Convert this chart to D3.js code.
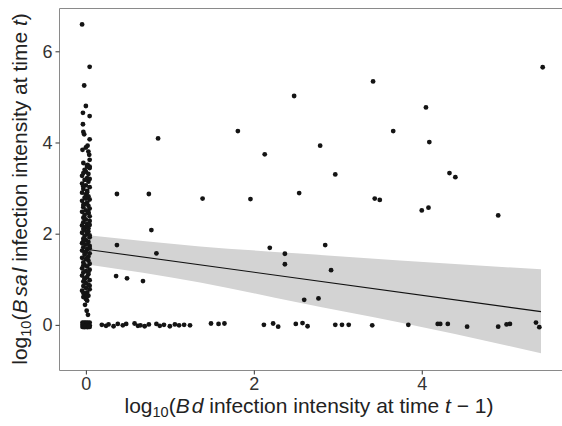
<!DOCTYPE html>
<html>
<head>
<meta charset="utf-8">
<title>Bsal vs Bd infection intensity</title>
<script src="https://cdn.jsdelivr.net/npm/d3@7"></script>
<style>
  body { margin: 0; background: #fff; }
  svg { display: block; font-family: "Liberation Sans", Arial, sans-serif; }
</style>
</head>
<body>
<div id="main-container"></div>
<script>
// points stacked at Bd = 0 (x jittered in picture)
var stackPoints = [
  [-0.045,6.59],[0.045,5.66],[-0.02,5.25],[0.0,4.80],[-0.035,4.65],[0.045,4.58],[-0.035,4.40],
  [-0.03,4.23],[-0.02,4.18],[0.045,4.07],[-0.04,3.84],[0.0,3.89],[0.02,3.93],[0.03,3.80],
  [0.04,3.73],[0.045,3.62],[0.02,3.51],[0.045,3.47],
  [-0.03,3.55],[0.015,3.50],[0.045,3.44],[-0.015,3.40],[0.0,3.36],[0.03,3.31],[-0.045,3.27],
  [0.015,3.22],[-0.015,3.18],[0.03,3.14],[-0.045,3.10],[0.0,3.06],[0.045,3.02],[-0.03,2.98],
  [0.015,2.94],[-0.045,2.90],[0.0,2.86],[0.03,2.82],[-0.015,2.79],[0.045,2.75],[-0.045,2.72],
  [0.015,2.68],[-0.015,2.65],[0.03,2.61],[-0.03,2.58],[0.045,2.55],[0.0,2.51],[-0.045,2.48],
  [0.03,2.45],[-0.015,2.41],[0.045,2.38],[-0.03,2.35],[0.0,2.31],[0.045,2.28],[-0.03,2.25],
  [0.015,2.21],[-0.045,2.18],[0.0,2.15],[0.03,2.12],[-0.015,2.08],[0.03,2.05],[-0.045,2.02],
  [0.015,1.99],[-0.015,1.95],[0.045,1.92],[-0.03,1.89],[0.0,1.86],[0.03,1.82],[-0.045,1.79],
  [0.0,1.76],[0.045,1.73],[-0.03,1.70],[0.015,1.66],[-0.045,1.63],[0.0,1.60],[0.045,1.57],
  [-0.015,1.54],[0.03,1.50],[-0.045,1.47],[0.0,1.44],[0.03,1.41],[-0.03,1.37],[0.045,1.34],
  [-0.015,1.31],[0.015,1.28],[-0.045,1.24],[0.045,1.21],[0.0,1.18],[-0.03,1.15],[0.03,1.11],
  [-0.045,1.08],[0.015,1.05],[-0.015,1.02],[0.045,0.98],[-0.03,0.95],[0.0,0.92],[0.03,0.88],
  [-0.03,0.85],[0.0,0.81],[0.045,0.78],[-0.045,0.75],[0.015,0.71],[-0.015,0.68],[0.03,0.64],
  [-0.03,0.61],[0.0,0.57],[0.015,0.53],
  [0.015,3.47],[-0.03,3.33],[0.045,3.20],[-0.03,3.04],[0.015,2.91],[0.0,2.77],[-0.03,2.63],
  [0.03,2.47],[-0.015,2.33],[0.045,2.19],[-0.03,2.10],[0.015,2.03],[0.045,1.96],[-0.03,1.83],
  [0.045,1.68],[-0.015,1.58],[0.015,1.46],[-0.03,1.30],[0.03,1.16],[-0.015,1.00],[0.045,0.86],
  [-0.03,0.70],[0.015,0.62],
  [-0.01,0.44],[0.01,0.31],[0.025,0.22]
];

// points at Bsal = 0 at Bd = 0
var zeroBlob = [
  [-0.04,0.05],[-0.02,0.05],[0.0,0.05],[0.02,0.05],[0.045,0.05],
  [-0.04,0.0],[-0.02,-0.01],[0.0,0.01],[0.02,0.0],[0.045,-0.01],
  [-0.04,-0.045],[-0.02,-0.05],[0.0,-0.045],[0.02,-0.05],[0.045,-0.045],
  [-0.03,0.03],[0.01,0.03],[-0.01,-0.03],[0.03,-0.03]
];

// points at Bsal = 0, Bd > 0
var zeroRow = [
  [0.19,0.0],[0.24,-0.02],[0.27,0.01],[0.33,-0.03],[0.38,0.02],[0.44,-0.01],[0.48,0.02],
  [0.58,0.03],[0.62,-0.02],[0.65,-0.01],[0.70,-0.03],[0.75,0.01],[0.84,0.02],[0.88,-0.02],
  [0.93,0.0],[1.0,-0.03],[1.06,0.01],[1.11,-0.01],[1.17,0.0],[1.24,-0.01],[1.49,0.03],
  [1.58,0.02],[1.65,0.03],[2.12,0.0],[2.23,0.03],[2.29,-0.04],[2.50,0.02],[2.58,0.04],
  [2.64,-0.03],[2.97,0.0],[3.05,0.0],[3.13,0.0],[3.41,-0.01],[3.84,0.0],[4.19,0.02],
  [4.22,0.02],[4.31,0.02],[4.54,-0.04],[4.91,-0.04],[5.01,0.01],[5.05,0.02],[5.36,0.05],
  [5.40,-0.05]
];

// remaining scattered points
var otherPoints = [
  [3.42,5.34],[2.48,5.02],[1.81,4.25],[3.66,4.25],[2.79,3.93],[2.13,3.74],[2.97,3.30],
  [2.54,2.89],[1.39,2.77],[1.96,2.76],[3.44,2.77],[3.50,2.74],[5.44,5.65],[4.05,4.77],
  [4.09,4.01],[4.33,3.33],[4.40,3.24],[4.00,2.51],[4.08,2.57],[4.91,2.40],[2.19,1.69],
  [2.37,1.56],[2.37,1.33],[2.85,1.75],[2.92,1.20],[2.60,0.55],[2.77,0.58],[0.37,1.75],
  [0.78,2.08],[0.84,1.57],[0.36,1.07],[0.49,1.02],[0.68,0.96],[0.86,4.09],[0.37,2.87],
  [0.75,2.87]
];

// linear fit and its confidence band
var fitX = [0, 5.42];
var fitY = [1.66, 0.29];
var bandX = [0, 1.36, 2.5, 3.74, 5.42];
var bandUpper = [1.97, 1.72, 1.57, 1.41, 1.22];
var bandLower = [1.33, 0.93, 0.50, 0.05, -0.62];

var xTicks = [0, 2, 4];
var yTicks = [0, 2, 4, 6];

var width = 562, height = 426;
var mLeft = 59, mTop = 8, mRight = 562, mBottom = 370;

var x = d3.scaleLinear().domain([-0.32, 5.67]).range([mLeft, mRight]);
var y = d3.scaleLinear().domain([-0.99, 6.95]).range([mBottom, mTop]);

var svg = d3.select('#main-container')
  .append('svg')
    .attr('width', width)
    .attr('height', height);

// confidence band
var bandData = bandX.map(function(v, i) { return {x: v, lo: bandLower[i], hi: bandUpper[i]}; });
svg.append('path')
  .datum(bandData)
  .attr('fill', '#d3d3d3')
  .attr('d', d3.area()
    .x(function(d) { return x(d.x); })
    .y0(function(d) { return y(d.lo); })
    .y1(function(d) { return y(d.hi); })
    .curve(d3.curveMonotoneX));

// fit line
svg.append('path')
  .datum(fitX.map(function(v, i) { return [v, fitY[i]]; }))
  .attr('fill', 'none')
  .attr('stroke', '#111')
  .attr('stroke-width', 1.1)
  .attr('d', d3.line()
    .x(function(d) { return x(d[0]); })
    .y(function(d) { return y(d[1]); }));

// points
var allPoints = stackPoints.concat(zeroBlob, zeroRow, otherPoints);
svg.append('g').selectAll('circle')
  .data(allPoints)
  .enter()
    .append('circle')
      .attr('cx', function(d) { return x(d[0]); })
      .attr('cy', function(d) { return y(d[1]); })
      .attr('r', 2.4)
      .attr('fill', '#141414');

// frame (top, left, bottom)
svg.append('path')
  .attr('fill', 'none')
  .attr('stroke', '#8a8a8a')
  .attr('stroke-width', 1)
  .attr('d', 'M' + mRight + ',' + (mTop + 0.5) + 'H' + (mLeft + 0.5) + 'V' + (mBottom + 0.5) + 'H' + mRight);

// axes
var xAxis = svg.append('g')
  .attr('transform', 'translate(0,' + (mBottom + 0.5) + ')')
  .call(d3.axisBottom(x).tickValues(xTicks).tickFormat(d3.format('d')).tickSize(4).tickPadding(3));
var yAxis = svg.append('g')
  .attr('transform', 'translate(' + (mLeft + 0.5) + ',0)')
  .call(d3.axisLeft(y).tickValues(yTicks).tickFormat(d3.format('d')).tickSize(4).tickPadding(3));

[xAxis, yAxis].forEach(function(a) {
  a.select('.domain').remove();
  a.selectAll('.tick line').attr('stroke', '#333');
  a.selectAll('.tick text')
    .attr('fill', '#333')
    .style('font-size', '18px')
    .style('font-family', '"Liberation Sans", Arial, sans-serif');
});

// axis titles
var xt = svg.append('text')
  .attr('x', 309)
  .attr('y', 413)
  .attr('text-anchor', 'middle')
  .attr('fill', '#222')
  .style('font-size', '21px');
xt.append('tspan').text('log');
xt.append('tspan').attr('dy', 4).style('font-size', '14.5px').text('10');
xt.append('tspan').attr('dy', -4).text('(');
xt.append('tspan').style('font-style', 'italic').text('B');
xt.append('tspan').attr('dx', 2).style('font-style', 'italic').text('d');
xt.append('tspan').text(' infection intensity at time ');
xt.append('tspan').style('font-style', 'italic').text('t');
xt.append('tspan').text(' \u2212 1)');

var yt = svg.append('text')
  .attr('transform', 'translate(27,' + ((mTop + mBottom) / 2) + ') rotate(-90)')
  .attr('text-anchor', 'middle')
  .attr('fill', '#222')
  .style('font-size', '21px');
yt.append('tspan').text('log');
yt.append('tspan').attr('dy', 4).style('font-size', '14.5px').text('10');
yt.append('tspan').attr('dy', -4).text('(');
yt.append('tspan').style('font-style', 'italic').text('B');
yt.append('tspan').attr('dx', 3).style('font-style', 'italic').text('sa');
yt.append('tspan').attr('dx', 2).style('font-style', 'italic').text('l');
yt.append('tspan').text(' infection intensity at time ');
yt.append('tspan').style('font-style', 'italic').text('t');
yt.append('tspan').text(')');
</script>
</body>
</html>
